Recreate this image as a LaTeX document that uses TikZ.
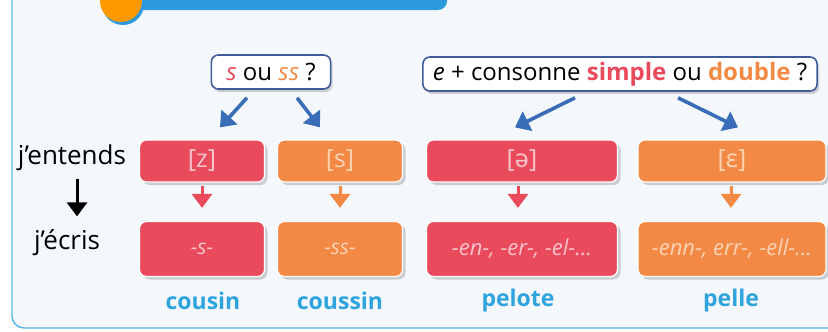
\documentclass[tikz,border=0pt]{standalone}
\usepackage{fontspec}
\setmainfont{Open Sans}
\newfontfamily\ipa{Noto Sans}
\usetikzlibrary{arrows.meta,shadows}
\definecolor{rouge}{HTML}{E94A5C}
\definecolor{orangec}{HTML}{F28A45}
\definecolor{rougeclair}{HTML}{F9C3CB}
\definecolor{orangeclair}{HTML}{FBD2B4}
\definecolor{bleuf}{HTML}{3A6DB8}
\definecolor{bleucadre}{HTML}{3F5C9A}
\definecolor{bleumot}{HTML}{2FA3DD}
\definecolor{bleutitre}{HTML}{2D9AE0}
\definecolor{fond}{HTML}{F4F8FC}
\tikzset{
  qbox/.style={draw=bleucadre,line width=1.6pt,fill=white,rounded corners=7pt,
    inner xsep=7pt,inner ysep=0pt,minimum height=34pt,font=\fontsize{24}{28}\selectfont,
    drop shadow={shadow xshift=2pt,shadow yshift=-3pt,opacity=.35}},
  sbox/.style={draw=white,line width=1.2pt,rounded corners=7pt,minimum height=#1,
    font=\fontsize{25}{28}\selectfont,inner xsep=0pt,inner ysep=0pt,
    drop shadow={shadow xshift=3pt,shadow yshift=-3pt,opacity=.35}},
  sbox/.default=42pt,
  barr/.style={bleuf,line width=3.6pt,-{Triangle[length=14pt,width=21pt]}},
  carr/.style={line width=3pt,-{Triangle[length=14pt,width=20pt]}},
  mot/.style={bleumot,font=\fontsize{23}{28}\selectfont\bfseries},
  etiq/.style={font=\fontsize{26}{30}\selectfont}
}
\begin{document}
\begin{tikzpicture}[x=1pt,y=-1pt]
  \useasboundingbox (0,0) rectangle (828,332);
  \clip (0,0) rectangle (828,332);
  % cadre
  \draw[fill=fond,draw=bleumot!80,line width=1.4pt,rounded corners=12pt]
    (12,-30) rectangle (860,328);
  % bandeau du titre
  \fill[bleutitre,rounded corners=9pt] (125,-40) rectangle (447,10);
  \fill[bleutitre] (123,4) circle (21);
  \fill[orange!80!yellow] (121,1) circle (21);
  % questions
  \node[qbox,inner xsep=15pt] (qs) at (271,72) {\textcolor{rouge}{\itshape s} ou \textcolor{orangec}{\itshape ss} ?};
  \node[qbox,inner xsep=10pt] (qe) at (620,74) {\itshape e\upshape{} + consonne
    \textcolor{rouge}{\bfseries simple} ou \textcolor{orangec}{\bfseries double} ?};
  % j'entends
  \node[sbox,fill=rouge,text=rougeclair,minimum width=125pt] (z) at (202,161) {[z]};
  \node[sbox,fill=orangec,text=orangeclair,minimum width=125pt] (s) at (340,161) {[s]};
  \node[sbox,fill=rouge,text=rougeclair,minimum width=191pt] (schwa) at (522,161) {[{\ipa ə}]};
  \node[sbox,fill=orangec,text=orangeclair,minimum width=188pt] (epsi) at (732,161) {[{\ipa ɛ}]};
  % j'ecris
  \node[sbox=55pt,fill=rouge,text=rougeclair,minimum width=125pt,font=\fontsize{21}{24}\selectfont\itshape] (zs) at (202,249) {-s-};
  \node[sbox=55pt,fill=orangec,text=orangeclair,minimum width=125pt,font=\fontsize{21}{24}\selectfont\itshape] (ss) at (340,249) {-ss-};
  \node[sbox=55pt,fill=rouge,text=rougeclair,minimum width=191pt,font=\fontsize{22}{24}\selectfont\itshape] (schwas) at (522,249) {-en-, -er-, -el-\dots};
  \node[sbox=55pt,fill=orangec,text=orangeclair,minimum width=188pt,font=\fontsize{22}{24}\selectfont\itshape] (epsis) at (732,249) {-enn-, err-, -ell-\dots};
  % mots
  \node[mot] (cousin) at (203,301) {cousin};
  \node[mot] (coussin) at (340,301) {coussin};
  \node[mot] (pelote) at (518,301) {pelote};
  \node[mot] (pelle) at (731,301) {pelle};
  % etiquettes
  \node[etiq] (jentends) at (72,158) {j’entends};
  \node[etiq] (jecris) at (67,243) {j’écris};
  \draw[carr,black] ([xshift=5pt,yshift=-4pt]jentends.south) -- ([xshift=10pt,yshift=10pt]jecris.north);
  % fleches
  \draw[barr] ([xshift=-24pt,yshift=-8pt]qs.south) -- ([xshift=18pt,yshift=12pt]z.north);
  \draw[barr] ([xshift=26pt,yshift=-8pt]qs.south) -- ([xshift=-20pt,yshift=12pt]s.north);
  \draw[barr] ([xshift=-45pt,yshift=-6pt]qe.south) -- ([xshift=-7pt,yshift=12pt]schwa.north);
  \draw[barr] ([xshift=58pt,yshift=-6pt]qe.south) -- ([xshift=6pt,yshift=12pt]epsi.north);
  \draw[carr,rouge] ([yshift=-3pt]z.south) -- ([yshift=13pt]zs.north);
  \draw[carr,orangec] ([yshift=-3pt]s.south) -- ([yshift=13pt]ss.north);
  \draw[carr,rouge] ([xshift=-4pt,yshift=-3pt]schwa.south) -- ([xshift=-4pt,yshift=13pt]schwas.north);
  \draw[carr,orangec] ([xshift=-1pt,yshift=-3pt]epsi.south) -- ([xshift=-1pt,yshift=13pt]epsis.north);
\end{tikzpicture}
\end{document}
